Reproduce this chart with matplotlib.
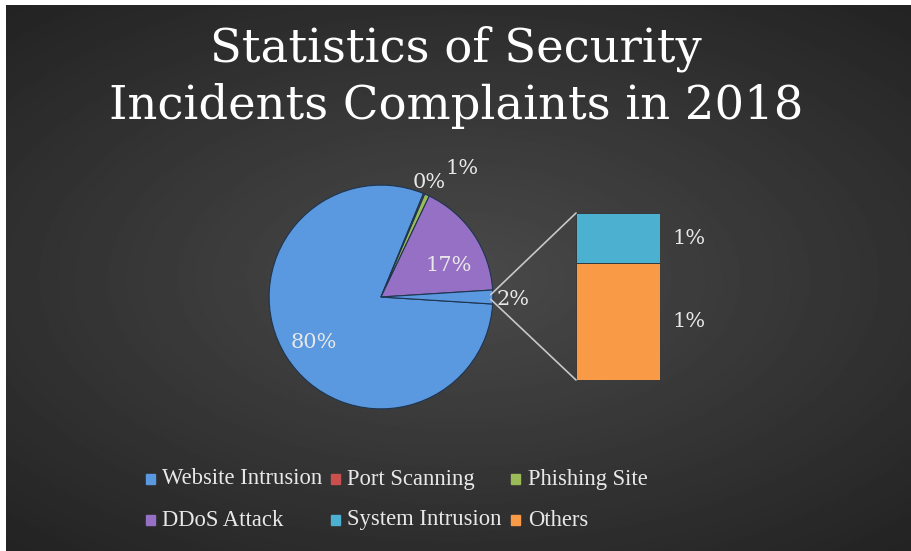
import numpy as np
import matplotlib.pyplot as plt
from matplotlib.patches import Rectangle, ConnectionPatch

# data (percent of complaints)
pie_labels = ['Website Intrusion', 'Port Scanning', 'Phishing Site', 'DDoS Attack']
pie_values = [80.2, 0.2, 0.7, 16.9]
bar_labels = ['System Intrusion', 'Others']
bar_values = [0.6, 1.4]
title = 'Statistics of Security\nIncidents Complaints in 2018'

pie_colors = ['#5a98df', '#c9504d', '#9bbb59', '#9570c4']
bar_colors = ['#4cb0d0', '#f89a46']
text_col = '#e8e8e8'

fig = plt.figure(figsize=(9.12, 5.51), dpi=100)
fig.patch.set_facecolor('white')

# dark radial background (white strip on top/left like the source image)
bg = fig.add_axes([6 / 912, 0, 906 / 912, 546 / 551])
yy, xx = np.mgrid[-1:1:300j, -1:1:500j]
r = np.sqrt((xx * 0.85) ** 2 + (yy * 0.95) ** 2)
bg.imshow(0.29 - 0.12 * np.clip(r, 0, 1.25), cmap='gray', vmin=0, vmax=1,
          aspect='auto', extent=[0, 1, 0, 1])
bg.axis('off')

fig.text(0.5, 1 - 77 / 551, title, ha='center', va='center', color='white',
         fontsize=33.5, family='DejaVu Serif', linespacing=1.3)

# pie
ax = fig.add_axes([268 / 912, 1 - 410 / 551, 226 / 912, 226 / 551])
ax.set_aspect('equal')
other = sum(bar_values)
vals = pie_values + [other]
cols = pie_colors + ['#5a98df']
wedges, _ = ax.pie(vals, colors=cols, startangle=-other / 2 * 3.6, counterclock=False,
                   wedgeprops=dict(edgecolor='#1e3550', linewidth=0.8))
ax.set_xlim(-1.01, 1.01)
ax.set_ylim(-1.01, 1.01)
ax.axis('off')

pie_txt = ['80%', '0%', '1%', '17%', '2%']
pos = [(-0.6, -0.41), (0.43, 1.02), (0.72, 1.15), (0.6, 0.28), (1.18, -0.02)]
for t, (x, y) in zip(pie_txt, pos):
    ax.text(x, y, t, ha='center', va='center', color=text_col,
            fontsize=15, family='DejaVu Serif')

# bar of the "other" slice
bx = fig.add_axes([576 / 912, 1 - 380 / 551, 84 / 912, 167 / 551])
bottom = 0
for v, c in zip(bar_values[::-1], bar_colors[::-1]):
    bx.bar(0, v, bottom=bottom, width=1, color=c, edgecolor='#303030', linewidth=0.6)
    bottom += v
bx.set_xlim(-0.5, 0.5)
bx.set_ylim(0, other)
bx.axis('off')
b = 0
for v in bar_values[::-1]:
    bx.text(1.34, b + v / 2, '1%', ha='center', va='center', color=text_col,
            fontsize=15, family='DejaVu Serif', transform=bx.get_yaxis_transform())
    b += v

# connector lines
for yb, ya in [(other, 0.02), (0, -0.02)]:
    con = ConnectionPatch(xyA=(-0.5, yb), coordsA=bx.transData,
                          xyB=(0.98, ya), coordsB=ax.transData,
                          color='#c8c8c8', linewidth=1.2)
    fig.add_artist(con)

# legend
all_labels = pie_labels + bar_labels
all_colors = pie_colors + bar_colors
col_x = [150, 335, 516]
row_y = [479, 520]
for k in range(6):
    x = col_x[k % 3] / 912
    y = 1 - row_y[k // 3] / 551
    fig.patches.append(Rectangle((x - 4.5 / 912, y - 5 / 551), 9 / 912, 10 / 551,
                                 transform=fig.transFigure, color=all_colors[k]))
    fig.text(x + 12 / 912, y, all_labels[k], ha='left', va='center', color=text_col,
             fontsize=16.3, family='Liberation Serif')

fig.savefig('out.png', dpi=100, facecolor=fig.get_facecolor())
